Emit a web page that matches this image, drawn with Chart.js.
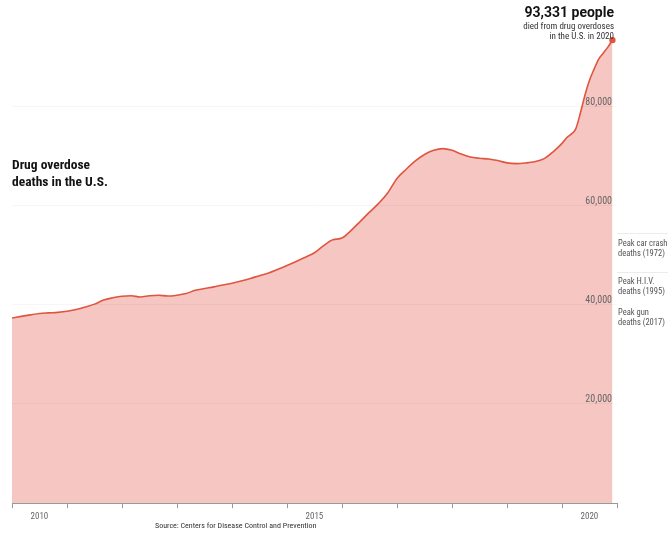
<!DOCTYPE html>
<html><head><meta charset="utf-8">
<script src="https://cdn.jsdelivr.net/npm/chart.js@4.4.1/dist/chart.umd.min.js"></script>
<style>
html,body{margin:0;padding:0;background:#fff;}
#wrap{position:relative;width:668px;height:533px;overflow:hidden;font-family:"Liberation Sans Narrow","Roboto Condensed",Roboto,sans-serif;}
canvas{position:absolute;left:0;top:0;}
.t{position:absolute;white-space:nowrap;}
.sep{position:absolute;left:617px;width:51px;height:1px;background:#ececec;}
</style></head><body>
<div id="wrap">
<canvas id="c" width="668" height="533"></canvas>
<div class="t" style="left:12px;top:156px;font-size:13.5px;font-weight:bold;line-height:17px;color:#121212;">Drug overdose<br>deaths in the U.S.</div>
<div class="t" style="right:54px;top:4px;text-align:right;color:#121212;">
  <div style="font-family:Roboto,sans-serif;font-size:14px;font-weight:bold;line-height:17px;">93,331 people</div>
  <div style="font-size:9px;line-height:10px;color:#333;">died from drug overdoses<br>in the U.S. in 2020</div>
</div>
<div class="sep" style="top:233px;"></div>
<div class="sep" style="top:272px;"></div>
<div class="t" style="left:618px;top:238px;font-size:8.5px;line-height:10px;color:#555;">Peak car crash<br>deaths (1972)</div>
<div class="t" style="left:618px;top:276px;font-size:8.5px;line-height:10px;color:#555;">Peak H.I.V.<br>deaths (1995)</div>
<div class="t" style="left:618px;top:307px;font-size:8.5px;line-height:10px;color:#555;">Peak gun<br>deaths (2017)</div>
<div class="t" style="left:155px;top:521px;font-size:8px;line-height:10px;color:#333;">Source: Centers for Disease Control and Prevention</div>
</div>
<script>
// 12-month overdose death counts, period ending (YYYY-MM)
const periods = [
 "2010-01","2010-03","2010-05","2010-07","2010-09","2010-11",
 "2011-01","2011-03","2011-05","2011-07","2011-09","2011-11",
 "2012-01","2012-03","2012-05","2012-07","2012-09","2012-11",
 "2013-01","2013-03","2013-05","2013-07","2013-09","2013-11",
 "2014-01","2014-03","2014-05","2014-07","2014-09","2014-11",
 "2015-01","2015-03","2015-05","2015-07","2015-09","2015-11",
 "2016-01","2016-03","2016-05","2016-07","2016-09","2016-11",
 "2017-01","2017-03","2017-05","2017-07","2017-09","2017-11",
 "2018-01","2018-03","2018-05","2018-07","2018-09","2018-11",
 "2019-01","2019-03","2019-05","2019-07","2019-09","2019-11",
 "2020-01","2020-02","2020-03","2020-04","2020-05","2020-06",
 "2020-07","2020-08","2020-09","2020-10","2020-11","2020-12"
];
const deaths = [
 37330,37650,37960,38240,38360,38460,
 38670,39050,39550,40120,40950,41390,
 41700,41800,41550,41820,41900,41750,
 41920,42260,42910,43270,43590,43980,
 44340,44790,45290,45860,46400,47130,
 47900,48710,49560,50480,51920,53070,
 53430,54990,56810,58650,60420,62560,
 65450,67310,68970,70280,71110,71450,
 71110,70360,69760,69510,69370,69050,
 68590,68440,68560,68810,69390,70770,
 72520,73660,74380,75450,78580,82220,
 85250,87470,89490,90700,91920,93331
];
const yTicks = [20000, 40000, 60000, 80000];
const xLabelYears = [2010, 2015, 2020];

const pts = periods.map((p, i) => {
  const [y, m] = p.split("-").map(Number);
  return { x: y + (m - 1) / 12, y: deaths[i] };
});
const last = pts.length - 1;
const FONT = '"Liberation Sans Narrow","Roboto Condensed",Roboto,sans-serif';

new Chart(document.getElementById("c"), {
  type: "line",
  data: { datasets: [{
    data: pts,
    borderColor: "#e0553f",
    borderWidth: 1.6,
    backgroundColor: "#f6c6c2",
    fill: "origin",
    cubicInterpolationMode: "monotone",
    pointRadius: c => c.dataIndex === last ? 3.2 : 0,
    pointBackgroundColor: "#e0553f",
    pointBorderWidth: 0
  }]},
  options: {
    responsive: false,
    animation: false,
    events: [],
    layout: { padding: { left: 12, right: 51, top: 7, bottom: 8 } },
    plugins: { legend: { display: false }, tooltip: { enabled: false } },
    scales: {
      x: {
        type: "linear", min: 2010, max: 2021,
        afterBuildTicks: s => { const t = []; for (let v = 2010; v <= 2021; v++) t.push({ value: v }); s.ticks = t; },
        grid: { drawOnChartArea: false, tickLength: 5, color: "#999" },
        border: { display: true, color: "#999" },
        ticks: {
          autoSkip: false, maxRotation: 0, labelOffset: 27.4, padding: 3,
          color: "#666", font: { family: FONT, size: 9 },
          callback: v => xLabelYears.includes(v) ? String(v) : ""
        }
      },
      y: {
        position: "right", min: 0, max: 100000,
        afterBuildTicks: s => { s.ticks = yTicks.map(v => ({ value: v })); },
        grid: { drawTicks: false, color: "rgba(0,0,0,0.035)", z: 1 },
        border: { display: false },
        ticks: {
          z: 2, mirror: true, padding: -5, labelOffset: -4,
          color: "#666", font: { family: FONT, size: 10 },
          callback: v => v.toLocaleString("en-US")
        }
      }
    }
  }
});
</script>
</body></html>
